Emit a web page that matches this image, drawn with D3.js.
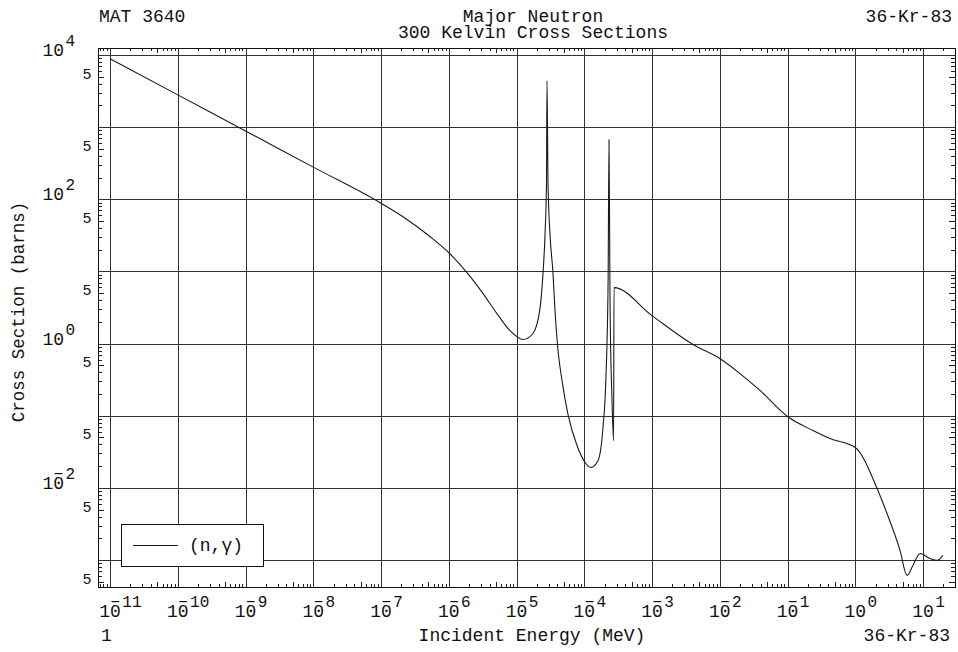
<!DOCTYPE html>
<html>
<head>
<meta charset="utf-8">
<script src="https://cdn.jsdelivr.net/npm/d3@7"></script>
<style>
  body { margin: 0; background: #fff; }
  text { font-family: 'Liberation Mono', 'DejaVu Sans Mono', monospace; fill: #111; }
</style>
</head>
<body>
<div id="chart"></div>
<script>
// (n,gamma) cross section of Kr-83
const energy = [
  1e-11, 1e-10, 1e-9, 1e-8, 1e-7, 2.11e-7, 5.28e-7, 1e-6, 1.86e-6, 3.21e-6,
  5.15e-6, 8.02e-6, 1.25e-5, 1.75e-5, 2.22e-5, 2.46e-5, 2.64e-5, 2.77e-5, 2.82e-5, 2.92e-5,
  3.12e-5, 3.46e-5, 3.70e-5, 4.10e-5, 4.70e-5, 5.75e-5, 7.82e-5, 1.03e-4, 1.26e-4, 1.60e-4,
  1.89e-4, 2.09e-4, 2.25e-4, 2.32e-4, 2.40e-4, 2.57e-4, 2.71e-4, 2.75e-4, 1e-3, 4.03e-3,
  1e-2, 1.99e-2, 3.93e-2, 0.1, 0.238, 0.424, 1.0, 2.10, 2.94, 4.58,
  5.81, 7.11, 9.04, 12.7, 16.1, 19.7
];
const xsec = [
  8860, 2800, 886, 279, 88.3, 57.4, 30.5, 18.2, 9.62, 4.93,
  2.60, 1.51, 1.14, 1.38, 3.05, 9.32, 33.4, 164, 4390, 164,
  33.4, 9.32, 2.87, 0.80, 0.307, 0.104, 0.0386, 0.0225, 0.0192, 0.0240,
  0.0687, 0.338, 7.46, 669, 3.94, 0.162, 0.0454, 5.97, 2.44, 0.97,
  0.620, 0.384, 0.224, 0.0975, 0.0624, 0.0483, 0.0363, 0.00982, 0.00442, 0.00136,
  0.000612, 0.000841, 0.00123, 0.00105, 0.000987, 0.00116
];

const xDecades = d3.range(-11, 2);      // 1e-11 .. 1e1
const yDecades = d3.range(-3, 5);       // 1e-3 .. 1e4
const yLabelExps = [-2, 0, 2, 4];
const yFiveExps = d3.range(-4, 4);      // 5e-4 .. 5e3
const legendLabel = '(n,\u03b3)';

const W = 958, H = 652;
const frame = { left: 98, right: 955, top: 48, bottom: 587 };

const svg = d3.select('#chart')
  .append('svg')
    .attr('width', W)
    .attr('height', H)
    .style('background-color', '#ffffff');

const x = d3.scaleLog().domain([1e-11, 10]).range([110, 923]);
const y = d3.scaleLog().domain([1e-3, 1e4]).range([560, 55]);

// minor tick values inside the frame
function minorTicks(scale, lo, hi, from, to) {
  const out = [];
  for (let e = from; e <= to; e++) {
    for (let m = 2; m <= 9; m++) {
      const v = m * Math.pow(10, e);
      const p = scale(v);
      if (p > lo && p < hi) out.push(v);
    }
  }
  return out;
}
const xMinor = minorTicks(x, frame.left, frame.right, -12, 1);
const yMinor = minorTicks(y, frame.top, frame.bottom, -4, 4);

// grid
const grid = svg.append('g').attr('stroke', '#333').attr('stroke-width', 1);
grid.selectAll('.vg').data(xDecades.map(e => Math.pow(10, e))).enter()
  .append('line')
    .attr('x1', d => Math.round(x(d)) + 0.5).attr('x2', d => Math.round(x(d)) + 0.5)
    .attr('y1', frame.top).attr('y2', frame.bottom);
grid.selectAll('.hg').data(yDecades.map(e => Math.pow(10, e))).enter()
  .append('line')
    .attr('y1', d => Math.round(y(d)) + 0.5).attr('y2', d => Math.round(y(d)) + 0.5)
    .attr('x1', frame.left).attr('x2', frame.right);

// minor ticks on all four sides, pointing inward
const ticks = svg.append('g').attr('stroke', '#222').attr('stroke-width', 1);
const isFive = d => { const f = Math.log10(d) - Math.floor(Math.log10(d)); return Math.abs(f - Math.log10(5)) < 0.01; };
const tlen = d => isFive(d) ? 5 : 3;
xMinor.forEach(v => {
  const px = Math.round(x(v)) + 0.5;
  ticks.append('line').attr('x1', px).attr('x2', px).attr('y1', frame.bottom).attr('y2', frame.bottom - tlen(v));
  ticks.append('line').attr('x1', px).attr('x2', px).attr('y1', frame.top).attr('y2', frame.top + tlen(v));
});
yMinor.forEach(v => {
  const py = Math.round(y(v)) + 0.5;
  ticks.append('line').attr('y1', py).attr('y2', py).attr('x1', frame.left).attr('x2', frame.left + tlen(v) + 1);
  ticks.append('line').attr('y1', py).attr('y2', py).attr('x1', frame.right).attr('x2', frame.right - tlen(v) - 1);
});

// frame
svg.append('rect')
  .attr('x', frame.left + 0.5).attr('y', frame.top + 0.5)
  .attr('width', frame.right - frame.left).attr('height', frame.bottom - frame.top)
  .attr('fill', 'none').attr('stroke', '#111').attr('stroke-width', 1);

// curve
const pts = energy.map((e, i) => [e, xsec[i]]);
svg.append('path')
  .datum(pts)
  .attr('fill', 'none')
  .attr('stroke', '#1a1a1a')
  .attr('stroke-width', 1.1)
  .attr('d', d3.line().curve(d3.curveMonotoneX).x(d => x(d[0])).y(d => y(d[1])));

// power-of-ten label: "10", then the minus drawn over the 0, then the exponent
function powerLabel(g, left, base, exp) {
  const t = g.append('text').attr('x', left).attr('y', base);
  t.append('tspan').style('font-size', '18px').text('10');
  if (exp < 0) {
    t.append('tspan').attr('dx', -10.2).attr('dy', -10).style('font-size', '16px').text('\u2212');
    t.append('tspan').attr('dx', 2.1).style('font-size', '16px').text(-exp);
  } else {
    t.append('tspan').attr('dx', 1.5).attr('dy', -10).style('font-size', '16px').text(exp);
  }
}

// x labels ("10" centred on the decade)
const xl = svg.append('g');
xDecades.forEach(e => powerLabel(xl, x(Math.pow(10, e)) - 10.8, 617, e));

// y labels
const yl = svg.append('g');
yLabelExps.forEach(e => powerLabel(yl, 42.4, y(Math.pow(10, e)) + 1, e));
yl.selectAll('.five').data(yFiveExps).enter()
  .append('text')
    .attr('x', 87)
    .attr('y', e => y(5 * Math.pow(10, e)) + 2)
    .attr('text-anchor', 'middle')
    .style('font-size', '15px')
    .text('5');

// axis titles
svg.append('text')
  .attr('x', 532).attr('y', 641)
  .attr('text-anchor', 'middle')
  .style('font-size', '18px')
  .text('Incident Energy (MeV)');
svg.append('text')
  .attr('transform', 'translate(24,312) rotate(-90)')
  .attr('text-anchor', 'middle')
  .style('font-size', '17.5px')
  .text('Cross Section (barns)');

// header and footer
svg.append('text').attr('x', 99).attr('y', 22).style('font-size', '18px').text('MAT 3640');
svg.append('text').attr('x', 533).attr('y', 22).attr('text-anchor', 'middle')
  .style('font-size', '18px').text('Major Neutron');
svg.append('text').attr('x', 533).attr('y', 38).attr('text-anchor', 'middle')
  .style('font-size', '18px').text('300 Kelvin Cross Sections');
svg.append('text').attr('x', 952).attr('y', 22).attr('text-anchor', 'end')
  .style('font-size', '18px').text('36-Kr-83');
svg.append('text').attr('x', 101).attr('y', 641).style('font-size', '18px').text('1');
svg.append('text').attr('x', 950).attr('y', 641).attr('text-anchor', 'end')
  .style('font-size', '18px').text('36-Kr-83');

// legend
const legend = svg.append('g');
legend.append('rect')
  .attr('x', 121.5).attr('y', 524.5).attr('width', 142).attr('height', 42)
  .attr('fill', '#fff').attr('stroke', '#111').attr('stroke-width', 1);
legend.append('line')
  .attr('x1', 133).attr('x2', 178).attr('y1', 545.5).attr('y2', 545.5)
  .attr('stroke', '#1a1a1a').attr('stroke-width', 1.1);
legend.append('text').attr('x', 189).attr('y', 551)
  .style('font-size', '18px').text(legendLabel);
</script>
</body>
</html>
